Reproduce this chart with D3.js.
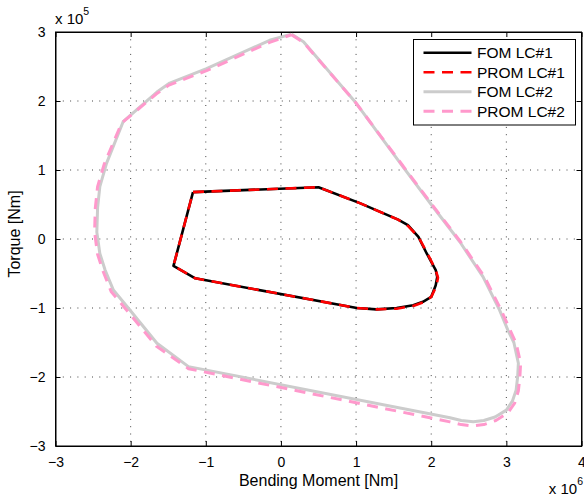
<!DOCTYPE html>
<html>
<head>
<meta charset="utf-8">
<script src="https://cdn.jsdelivr.net/npm/d3@7"></script>
<style>
body { margin: 0; background: #fff; }
text { font-family: "Liberation Sans", Arial, Helvetica, sans-serif; fill: #000; }
</style>
</head>
<body>
<div id="chart"></div>
<script>
// valores en x1e6 (momento) y x1e5 (torque)
var fomLC1 = [
    [-1.17, 0.68], [0.50, 0.75], [1.05, 0.52], [1.56, 0.28], [1.69, 0.20], [1.83, 0.03],
    [1.94, -0.21], [2.06, -0.45], [2.08, -0.55], [2.06, -0.67], [2.00, -0.84], [1.89, -0.91],
    [1.76, -0.96], [1.54, -1.00], [1.27, -1.02], [1.01, -1.00], [-1.14, -0.57], [-1.43, -0.39],
    [-1.17, 0.68]
];
var promLC1 = [
    [-1.17, 0.68], [0.50, 0.75], [1.05, 0.52], [1.56, 0.28], [1.69, 0.19], [1.83, 0.03],
    [1.95, -0.21], [2.06, -0.45], [2.09, -0.56], [2.07, -0.68], [2.00, -0.84], [1.89, -0.92],
    [1.76, -0.97], [1.54, -1.01], [1.27, -1.02], [1.01, -1.00], [-1.14, -0.57], [-1.43, -0.39],
    [-1.17, 0.68]
];
var fomLC2 = [
    [0.14, 2.97], [0.30, 2.86], [1.00, 1.97], [1.60, 1.08], [2.00, 0.50], [2.38, -0.04],
    [2.69, -0.55], [2.91, -1.03], [3.02, -1.32], [3.10, -1.50], [3.16, -1.80], [3.15, -2.00],
    [3.13, -2.19], [3.08, -2.35], [3.00, -2.48], [2.85, -2.58], [2.70, -2.63], [2.56, -2.65],
    [2.40, -2.63], [2.25, -2.59], [-1.23, -1.85], [-1.65, -1.51], [-2.01, -1.03], [-2.23, -0.74],
    [-2.34, -0.45], [-2.41, -0.21], [-2.45, 0.10], [-2.44, 0.45], [-2.41, 0.76], [-2.32, 1.10],
    [-2.10, 1.70], [-1.65, 2.13], [-1.48, 2.26], [-0.99, 2.47], [-0.15, 2.88], [0.14, 2.97]
];
var promLC2 = [
    [0.14, 2.96], [0.30, 2.85], [1.00, 1.97], [1.61, 1.08], [2.01, 0.50], [2.39, -0.04],
    [2.71, -0.55], [2.93, -1.03], [3.05, -1.32], [3.13, -1.51], [3.19, -1.80], [3.18, -2.00],
    [3.16, -2.20], [3.11, -2.38], [3.02, -2.52], [2.86, -2.63], [2.70, -2.69], [2.55, -2.71],
    [2.40, -2.69], [2.25, -2.65], [-1.23, -1.88], [-1.66, -1.55], [-2.03, -1.06], [-2.26, -0.76],
    [-2.37, -0.46], [-2.44, -0.22], [-2.48, 0.10], [-2.47, 0.45], [-2.44, 0.76], [-2.35, 1.09],
    [-2.12, 1.68], [-1.66, 2.10], [-1.49, 2.23], [-0.99, 2.44], [-0.15, 2.85], [0.14, 2.96]
];
var xTicks = [-3, -2, -1, 0, 1, 2, 3, 4];
var yTicks = [-3, -2, -1, 0, 1, 2, 3];
var seriesNames = ["FOM LC#1", "PROM LC#1", "FOM LC#2", "PROM LC#2"];

var width = 584, height = 496;
var pLeft = 55.5, pRight = 581.5, pTop = 32, pBottom = 446;

var x = d3.scaleLinear().domain([-3, 4]).range([pLeft, pRight]);
var y = d3.scaleLinear().domain([-3, 3]).range([pBottom, pTop]);

var svg = d3.select("#chart").append("svg")
    .attr("width", width)
    .attr("height", height);

// grilla punteada
svg.append("g").selectAll("line")
    .data(xTicks.slice(1, -1))
    .enter().append("line")
    .attr("x1", function(d) { return x(d); })
    .attr("x2", function(d) { return x(d); })
    .attr("y1", pTop).attr("y2", pBottom)
    .attr("stroke", "#444").attr("stroke-width", 1)
    .attr("stroke-dasharray", "1,6.3");
svg.append("g").selectAll("line")
    .data(yTicks.slice(1, -1))
    .enter().append("line")
    .attr("y1", function(d) { return y(d); })
    .attr("y2", function(d) { return y(d); })
    .attr("x1", pLeft).attr("x2", pRight)
    .attr("stroke", "#444").attr("stroke-width", 1)
    .attr("stroke-dasharray", "1,6.3");

// ejes con ticks hacia adentro
var fmt = function(d) { return d < 0 ? "\u2212" + Math.abs(d) : String(d); };
var xAxis = svg.append("g").attr("transform", "translate(0," + pBottom + ")")
    .call(d3.axisBottom(x).tickValues(xTicks).tickSizeInner(-5).tickSizeOuter(0).tickPadding(11).tickFormat(fmt));
var xAxisTop = svg.append("g").attr("transform", "translate(0," + pTop + ")")
    .call(d3.axisTop(x).tickValues(xTicks).tickSizeInner(-5).tickSizeOuter(0).tickFormat(""));
var yAxis = svg.append("g").attr("transform", "translate(" + pLeft + ",0)")
    .call(d3.axisLeft(y).tickValues(yTicks).tickSizeInner(-5).tickSizeOuter(0).tickPadding(10).tickFormat(fmt));
var yAxisRight = svg.append("g").attr("transform", "translate(" + pRight + ",0)")
    .call(d3.axisRight(y).tickValues(yTicks).tickSizeInner(-5).tickSizeOuter(0).tickFormat(""));
[xAxis, xAxisTop, yAxis, yAxisRight].forEach(function(a) {
    a.selectAll("text").style("font-family", "Liberation Sans, Arial, sans-serif").style("font-size", "14px").attr("fill", "#000");
    a.selectAll("line").attr("stroke", "#000");
    a.select(".domain").attr("stroke", "#000");
});
svg.append("rect")
    .attr("x", pLeft).attr("y", pTop)
    .attr("width", pRight - pLeft).attr("height", pBottom - pTop)
    .attr("fill", "none").attr("stroke", "#000").attr("stroke-width", 1);

// curvas
var line = d3.line()
    .x(function(d) { return x(d[0]); })
    .y(function(d) { return y(d[1]); });

var series = [
    {data: fomLC1, color: "#000000", w: 2.6, dash: null},
    {data: promLC1, color: "#ff0000", w: 2.6, dash: "11,7.5"},
    {data: fomLC2, color: "#cccccc", w: 3, dash: null},
    {data: promLC2, color: "#ff99cc", w: 3, dash: "11,7.5"}
];
series.forEach(function(s) {
    svg.append("path")
        .datum(s.data)
        .attr("d", line)
        .attr("fill", "none")
        .attr("stroke", s.color)
        .attr("stroke-width", s.w)
        .attr("stroke-linejoin", "round")
        .attr("stroke-dasharray", s.dash);
});

// leyenda
var legend = svg.append("g");
legend.append("rect")
    .attr("x", 413.5).attr("y", 39.5)
    .attr("width", 162).attr("height", 85.5)
    .attr("fill", "#fff").attr("stroke", "#000").attr("stroke-width", 1);
var rowY = [52.7, 72.3, 91.7, 111.3];
series.forEach(function(s, i) {
    legend.append("line")
        .attr("x1", 423.5).attr("x2", 471.5)
        .attr("y1", rowY[i]).attr("y2", rowY[i])
        .attr("stroke", s.color)
        .attr("stroke-width", s.w)
        .attr("stroke-dasharray", s.dash);
    legend.append("text")
        .attr("x", 477).attr("y", rowY[i])
        .attr("dy", "0.36em")
        .style("font-size", "15.5px")
        .text(seriesNames[i]);
});

// etiquetas
svg.append("text")
    .attr("x", (pLeft + pRight) / 2).attr("y", 486)
    .attr("text-anchor", "middle")
    .style("font-size", "16px")
    .text("Bending Moment [Nm]");
svg.append("text")
    .attr("transform", "translate(20,234)rotate(-90)")
    .attr("text-anchor", "middle")
    .style("font-size", "16px")
    .text("Torque [Nm]");

// exponentes
var e1 = svg.append("text").attr("x", 55).attr("y", 24).style("font-size", "15px");
e1.append("tspan").text("x 10");
e1.append("tspan").attr("dy", -9).style("font-size", "10.5px").text("5");
var e2 = svg.append("text").attr("x", 583).attr("y", 494).attr("text-anchor", "end").style("font-size", "15px");
e2.append("tspan").text("x 10");
e2.append("tspan").attr("dy", -9).style("font-size", "10.5px").text("6");
</script>
</body>
</html>
